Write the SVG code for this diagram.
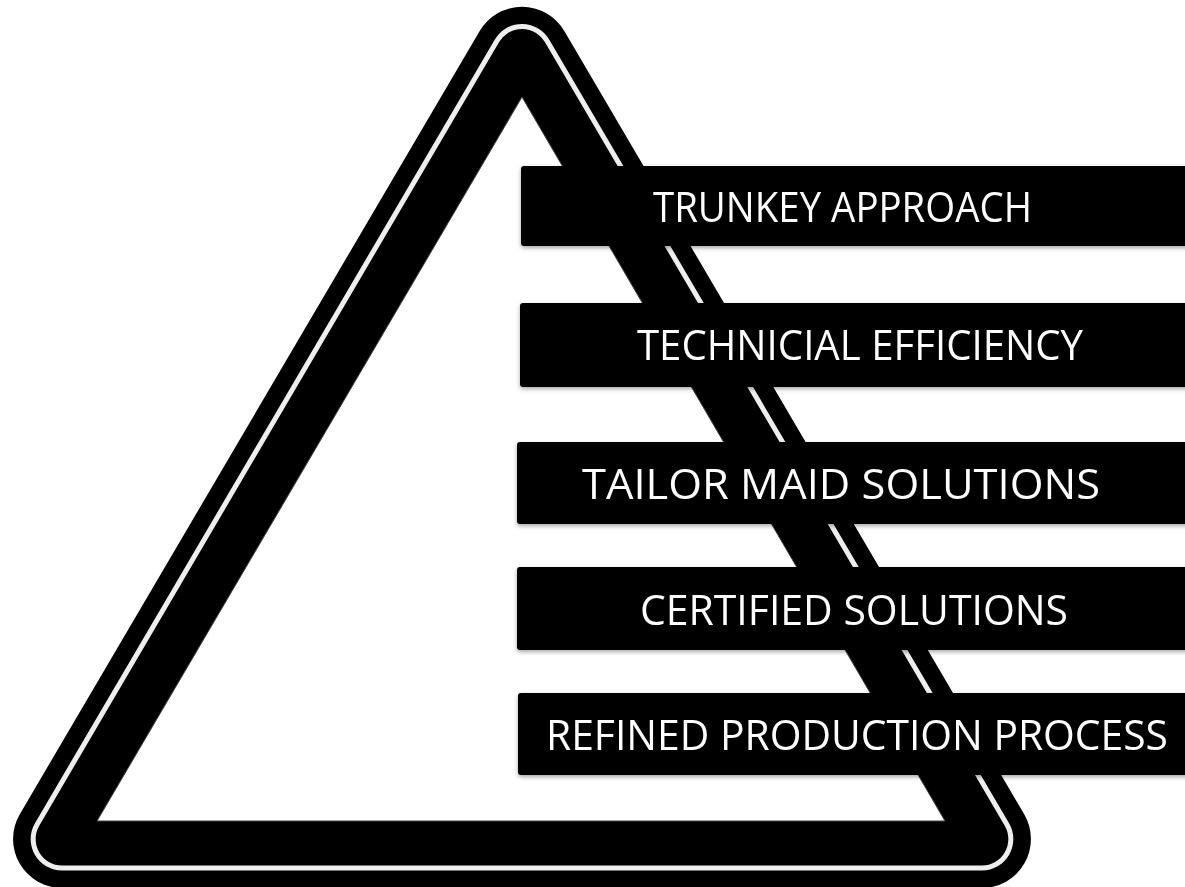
<svg xmlns="http://www.w3.org/2000/svg" width="1185" height="887" viewBox="0 0 1185 887">
<defs>
<style>
.box{fill:#000;}
.lbl{fill:#fff;font-family:"Open Sans","Liberation Sans",sans-serif;font-size:42px;}
</style>
<filter id="sh" x="-5%" y="-20%" width="110%" height="150%">
<feDropShadow dx="0" dy="2" stdDeviation="2" flood-color="#000" flood-opacity="0.35"/>
</filter>
</defs>
<rect x="0" y="0" width="1185" height="887" fill="#fff"/>
<g id="triangle">
<path d="M 479.7 31 A 49 49 0 0 1 564.3 31 L 1024.2 814.2 A 49 49 0 0 1 981.9 888 L 62.1 888 A 49 49 0 0 1 19.8 814.2 Z" fill="#000"/>
<path d="M 497 40.8 A 29 29 0 0 1 547 40.8 L 1006.9 824.4 A 29 29 0 0 1 981.9 868 L 62.1 868 A 29 29 0 0 1 37.1 824.4 Z" fill="none" stroke="#eee" stroke-width="5"/>
<polygon points="522,97 945,821 97,821" fill="#fff" stroke="#444" stroke-width="1"/>
</g>
<g id="connectors"></g>
<g id="n1" filter="url(#sh)">
<rect class="box" x="521" y="166" width="680" height="80" rx="3"/>
<text class="lbl" x="653" y="222" textLength="379" lengthAdjust="spacingAndGlyphs">TRUNKEY APPROACH</text>
</g>
<g id="n2" filter="url(#sh)">
<rect class="box" x="520" y="303" width="680" height="84" rx="3"/>
<text class="lbl" x="637" y="360" textLength="446" lengthAdjust="spacingAndGlyphs">TECHNICIAL EFFICIENCY</text>
</g>
<g id="n3" filter="url(#sh)">
<rect class="box" x="517" y="442" width="680" height="82" rx="3"/>
<text class="lbl" x="582" y="499" textLength="518" lengthAdjust="spacingAndGlyphs">TAILOR MAID SOLUTIONS</text>
</g>
<g id="n4" filter="url(#sh)">
<rect class="box" x="517" y="567" width="680" height="83" rx="3"/>
<text class="lbl" x="640" y="625" textLength="428" lengthAdjust="spacingAndGlyphs">CERTIFIED SOLUTIONS</text>
</g>
<g id="n5" filter="url(#sh)">
<rect class="box" x="518" y="693" width="680" height="82" rx="3"/>
<text class="lbl" x="546" y="750" textLength="622" lengthAdjust="spacingAndGlyphs">REFINED PRODUCTION PROCESS</text>
</g>
</svg>
